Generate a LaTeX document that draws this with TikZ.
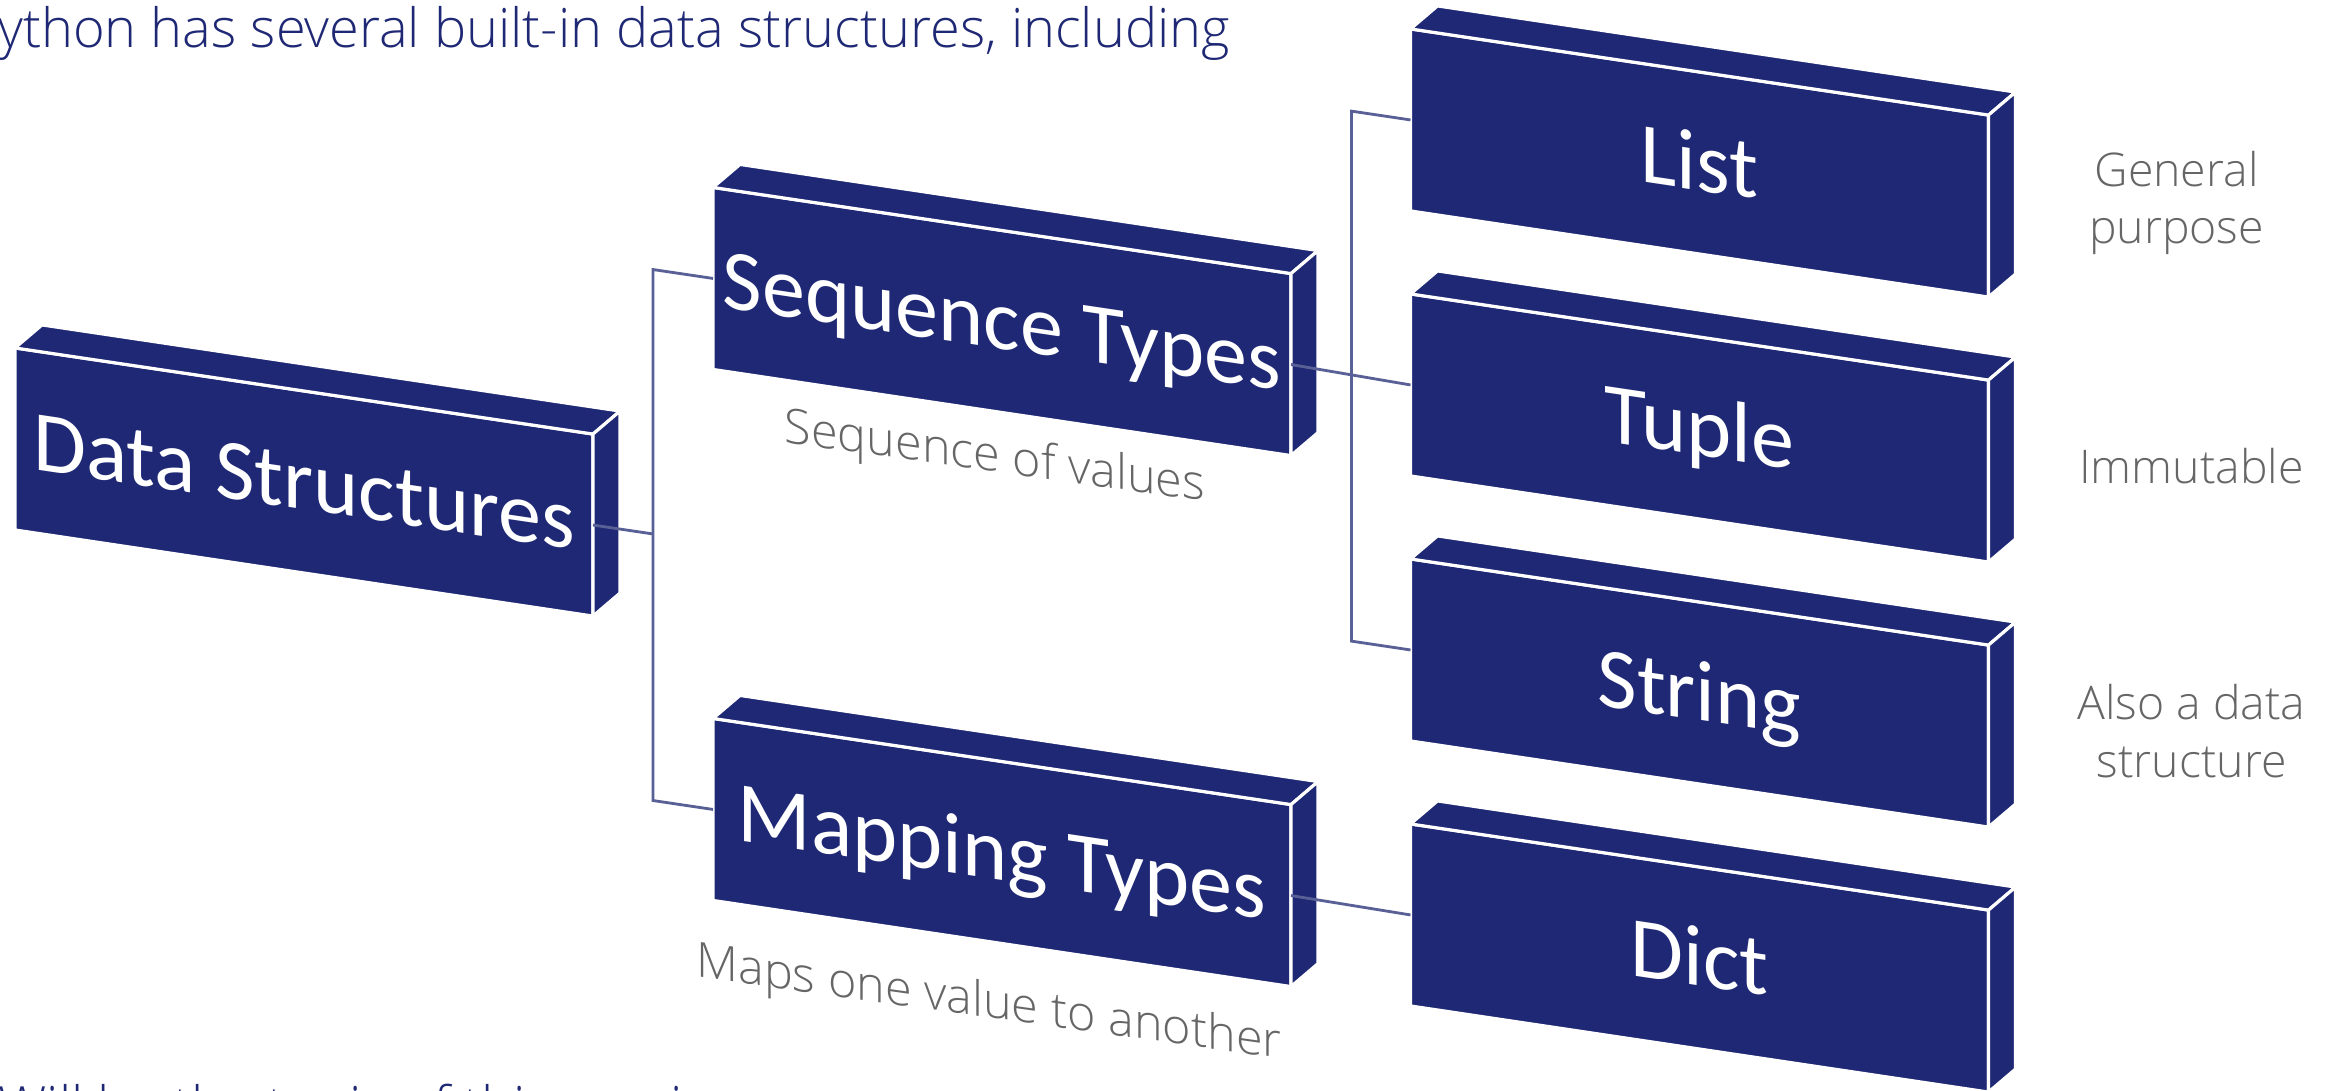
\documentclass[tikz,border=0pt]{standalone}
\usepackage{fontspec}
\setmainfont{Carlito}
\newfontfamily\lightfont{Open Sans Light}
\usetikzlibrary{positioning,calc}
\definecolor{slabNavy}{RGB}{31,40,116}
\definecolor{linkColor}{RGB}{88,96,150}
\colorlet{noteGray}{black!60}

\begin{document}
\begin{tikzpicture}[
    slab/.style={fill=slabNavy, draw=white, line width=0.9pt, text=white,
      minimum width=5.78cm, minimum height=1.82cm, inner sep=0, outer sep=0,
      text height=0.55cm, text depth=0cm,
      yslant=-0.149, transform shape, font=\fontsize{24.5}{29}\selectfont},
    slabface/.style={fill=slabNavy, draw=white, line width=0.9pt, line join=round},
    link/.style={draw=linkColor, line width=0.8pt},
    note/.style={text=noteGray, inner sep=0, font=\lightfont\fontsize{13.8}{16}\selectfont},
    sidenote/.style={note, align=center, font=\lightfont\fontsize{13.2}{16.4}\selectfont},
    headline/.style={text=slabNavy, inner sep=0, font=\lightfont\fontsize{15.4}{18}\selectfont}
  ]
  \useasboundingbox (0,0) rectangle (23.38,10.9);
  \clip (0,0) rectangle (23.38,10.9);

  \node[headline, anchor=base west] (intro) at (-0.34,10.43) {Python has several built-in data structures, including};
  \node[headline, anchor=base west] (outro) at (-0.02,-0.35) {Will be the topic of this session};

  % the slabs
  \node[slab] (ds) at (3.04,6.08) {Data Structures};
  \node[slab] (seq) at (10.02,7.685) {Sequence Types};
  \node[slab] (map) at (10.02,2.375) {Mapping Types};
  \node[slab] (list) at (16.995,9.27) {List};
  \node[slab] (tuple) at (16.995,6.62) {Tuple};
  \node[slab] (string) at (16.995,3.97) {String};
  \node[slab] (dict) at (16.995,1.32) {Dict};
  \foreach \n in {ds,seq,map,list,tuple,string,dict}{
    \filldraw[slabface] (\n.north west) -- (\n.north east) -- ++(0.27,0.23) -- ($(\n.north west)+(0.27,0.23)$) -- cycle;
    \filldraw[slabface] (\n.north east) -- ++(0.27,0.23) -- ($(\n.south east)+(0.27,0.23)$) -- (\n.south east) -- cycle;
  }

  % tree lines
  \coordinate (dsjoint) at ($(ds.east)+(0.6,-0.089)$);
  \coordinate (seqknee) at ($(seq.west)+(-0.6,0.089)$);
  \coordinate (mapknee) at ($(map.west)+(-0.6,0.089)$);
  \coordinate (listknee) at ($(list.west)+(-0.59,0.088)$);
  \coordinate (stringknee) at ($(string.west)+(-0.59,0.088)$);
  \draw[link] (ds.east) -- (dsjoint);
  \draw[link] (seq.west) -- (seqknee) -- (mapknee) -- (map.west);
  \draw[link] (list.west) -- (listknee) -- (stringknee) -- (string.west);
  \draw[link] (seq.east) -- (tuple.west);
  \draw[link] (map.east) -- (dict.west);

  % notes
  \node[note, yslant=-0.14, transform shape] (seqnote) at (9.95,6.31) {Sequence of values};
  \node[note, yslant=-0.14, transform shape] (mapnote) at (9.89,0.85) {Maps one value to another};
  \node[sidenote] (listnote) at ($(list.east)+(1.88,0.03)$) {General\\purpose};
  \node[sidenote] (tuplenote) at ($(tuple.east)+(2.03,0.05)$) {Immutable};
  \node[sidenote] (stringnote) at ($(string.east)+(2.03,0.05)$) {Also a data\\structure};
\end{tikzpicture}
\end{document}
